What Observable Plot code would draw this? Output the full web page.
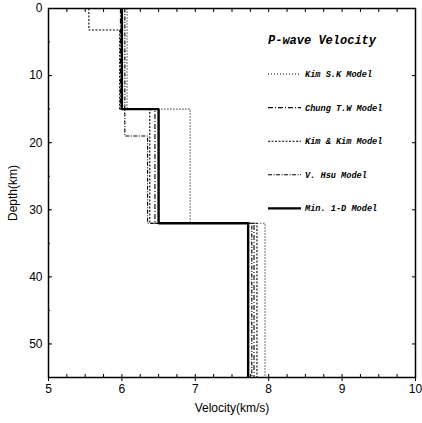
<!DOCTYPE html>
<html>
<head>
<meta charset="utf-8">
<script src="https://cdn.jsdelivr.net/npm/d3@7"></script>
<script src="https://cdn.jsdelivr.net/npm/@observablehq/plot@0.6"></script>
<style>
  body { margin: 0; background: #fff; }
  #chart { position: relative; width: 422px; height: 423px; }
</style>
</head>
<body>
<div id="chart"></div>
<script>
// ---- data ----
const modelNames = ["Kim S.K Model", "Chung T.W Model", "Kim & Kim Model", "V. Hsu Model", "Min. 1-D Model"];
// layer boundaries (km) and P-wave velocities (km/s) of each model
const kimSKDepths = [0, 15, 32, 55];
const kimSKVel = [6.07, 6.93, 7.95];
const chungDepths = [0, 15, 32, 55];
const chungVel = [5.98, 6.45, 7.80];
const kimKimDepths = [0, 3.2, 15, 32, 55];
const kimKimVel = [5.55, 5.97, 6.38, 7.84];
const hsuDepths = [0, 19, 32, 55];
const hsuVel = [6.04, 6.35, 7.77];
const minDepths = [0, 15, 32, 55];
const minVel = [6.0, 6.5, 7.72];

const xTicks = [5, 6, 7, 8, 9, 10];
const yTicks = [0, 10, 20, 30, 40, 50];
const legendTitle = "P-wave Velocity";

// ---- build step profiles ----
function steps(depths, vel) {
  const pts = [];
  vel.forEach((v, i) => {
    pts.push({v, d: depths[i]});
    pts.push({v, d: depths[i + 1]});
  });
  return pts;
}
const profiles = [
  {name: modelNames[0], pts: steps(kimSKDepths, kimSKVel), dash: "1,2", w: 1.1},
  {name: modelNames[1], pts: steps(chungDepths, chungVel), dash: "5,2,1,2", w: 1.1},
  {name: modelNames[2], pts: steps(kimKimDepths, kimKimVel), dash: "2,1.5", w: 1.1},
  {name: modelNames[3], pts: steps(hsuDepths, hsuVel), dash: "4,1.5,1,1.5", w: 1.1},
  {name: modelNames[4], pts: steps(minDepths, minVel), dash: null, w: 2.4}
];

const minorX = d3.range(5, 10.001, 0.25);
const minorY = d3.range(0, 55.001, 5);

const plot = Plot.plot({
  width: 422,
  height: 423,
  marginLeft: 48,
  marginRight: 7,
  marginTop: 8,
  marginBottom: 46,
  style: {fontFamily: "'Liberation Sans', Arial, sans-serif", fontSize: "12px", color: "#000", background: "#fff"},
  x: {domain: [5, 10]},
  y: {domain: [0, 55], reverse: true},
  marks: [
    ...profiles.map(p => Plot.line(p.pts, {
      x: "v", y: "d", stroke: "#000", strokeWidth: p.w,
      strokeDasharray: p.dash, strokeLinecap: "butt", strokeLinejoin: "miter"
    })),
    Plot.axisX(xTicks, {tickSize: 4, tickPadding: 3, fontSize: 12, label: "Velocity(km/s)", labelAnchor: "center", labelOffset: 34, labelArrow: "none"}),
    Plot.axisX(minorX, {anchor: "bottom", tickSize: -3, text: null, label: null}),
    Plot.axisX(minorX, {anchor: "top", tickSize: -3, text: null, label: null}),
    Plot.axisY(yTicks, {tickSize: -4, tickPadding: 10, fontSize: 12, label: "Depth(km)", labelAnchor: "center", labelOffset: 40, labelArrow: "none"}),
    Plot.axisY(minorY, {anchor: "left", tickSize: -2, text: null, label: null}),
    Plot.axisY(yTicks, {anchor: "right", tickSize: -4, text: null, label: null}),
    Plot.frame({stroke: "#000", strokeWidth: 1.5})
  ]
});
document.getElementById("chart").appendChild(plot);

// ---- legend inside the plot area ----
const svg = d3.select(plot);
const lg = svg.append("g").attr("font-family", "'Liberation Mono', 'DejaVu Sans Mono', monospace")
  .attr("font-weight", "bold").attr("font-style", "italic").attr("fill", "#000")
  .attr("text-anchor", "start");
lg.append("text").attr("x", 268).attr("y", 44).attr("font-size", 12).attr("text-anchor", "start").text(legendTitle);
profiles.forEach((p, i) => {
  const y = 74 + i * 33.6;
  lg.append("line").attr("x1", 268).attr("x2", 301).attr("y1", y).attr("y2", y)
    .attr("stroke", "#000").attr("stroke-width", p.w)
    .attr("stroke-dasharray", p.dash);
  lg.append("text").attr("x", 305).attr("y", y + 3).attr("font-size", 8.6)
    .attr("text-anchor", "start").text(p.name);
});
</script>
</body>
</html>
